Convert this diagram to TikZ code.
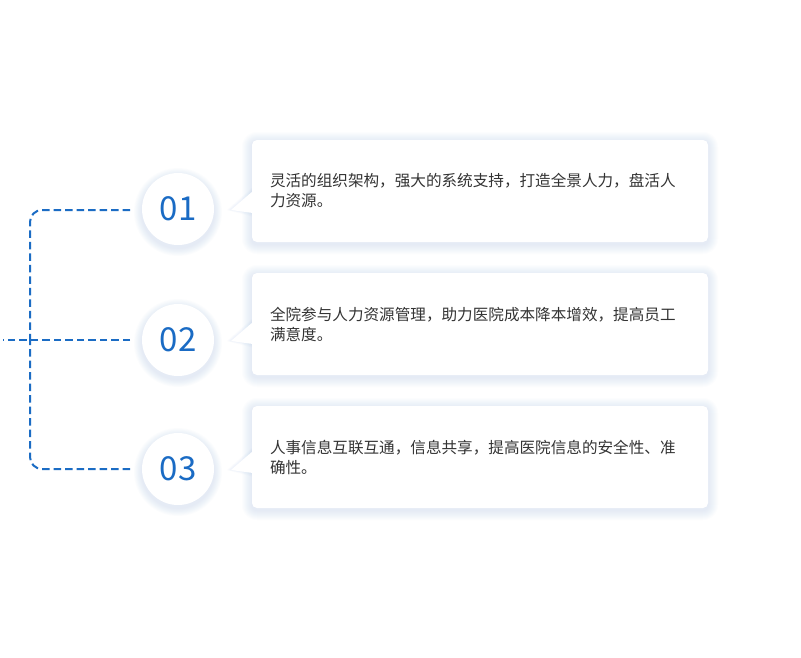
\documentclass[tikz,border=0pt]{standalone}
\usepackage{fontspec}
\newfontfamily\cjk{Noto Sans CJK SC}
\usetikzlibrary{positioning}
\definecolor{numblue}{HTML}{1A6BC4}
\definecolor{linkblue}{HTML}{1B6CC4}
\definecolor{txtgray}{HTML}{333333}
\definecolor{shadowblue}{HTML}{BCD2EE}

\begin{document}
\begin{tikzpicture}[x=1pt,y=-1pt,
      numcircle/.style={circle,fill=white,minimum size=72pt,inner sep=0pt,text=numblue,font=\cjk\fontsize{33}{33}\selectfont},
      card/.style={rectangle,rounded corners=5pt,fill=white,minimum width=456pt,minimum height=102pt,
                   text width=420pt,inner xsep=18pt,align=left,text=txtgray,font=\cjk\fontsize{15.6}{20}\selectfont},
      tip/.style={fill=white},
      link/.style={linkblue,line width=2pt,dash pattern=on 7.5pt off 4pt}
      ]
      \fill[white] (0,0) rectangle (801,657);
      \useasboundingbox (0,0) rectangle (801,657);
      % soft shadows under cards, tips and circles
      \foreach \y/\c in {139/209,272/340,405/469}{
        \foreach \s in {1,...,10}{
          \fill[shadowblue,opacity=0.04,rounded corners=5+\s] (252-\s,\y+3-\s) rectangle (708+\s,\y+105+\s);
          \fill[shadowblue,opacity=0.04] (178,\c+3) circle[radius=36pt+0.8pt*\s];
        }
        \foreach \s in {1,...,4}
          \fill[shadowblue,opacity=0.06] (254,\c-19-\s) -- (231-\s,\c+1) -- (254,\c+4+\s) -- cycle;
      }
      % dashed links
      \coordinate (e1) at (130,210);
      \coordinate (e2) at (130,340);
      \coordinate (e3) at (130,469);
      \coordinate (root) at (3,340);
      \coordinate (trunk) at (30,340);
      \draw[link,rounded corners=12pt] (e1) -| (trunk);
      \draw[link,rounded corners=12pt] (e3) -| (trunk);
      \draw[link] (e2) -- (root);
      % numbers
      \node (n1) [numcircle] at (178,209) {01};
      \node (n2) [numcircle] at (178,340) {02};
      \node (n3) [numcircle] at (178,469) {03};
      % callouts
      \fill[tip] (253,191) -- (231,210) -- (253,213) -- cycle;
      \node (c1) [card] at (480,191) {灵活的组织架构，强大的系统支持，打造全景人力，盘活人\\力资源。};
      \fill[tip] (253,322) -- (231,341) -- (253,344) -- cycle;
      \node (c2) [card] at (480,324) {全院参与人力资源管理，助力医院成本降本增效，提高员工\\满意度。};
      \fill[tip] (253,451) -- (231,470) -- (253,473) -- cycle;
      \node (c3) [card] at (480,457) {人事信息互联互通，信息共享，提高医院信息的安全性、准\\确性。};
    \end{tikzpicture}
\end{document}
